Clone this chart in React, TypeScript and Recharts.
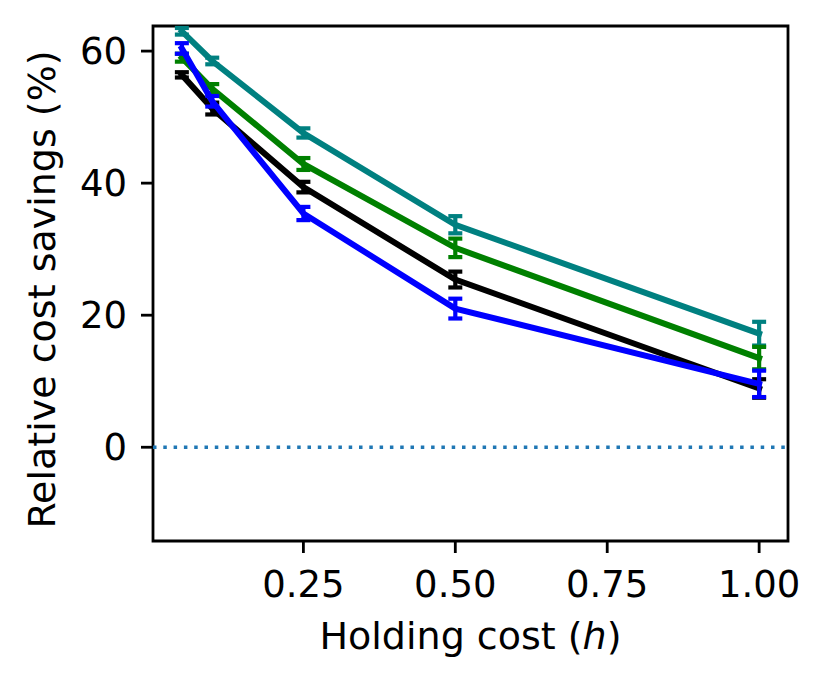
import {
  ErrorBar,
  Line,
  LineChart,
  ReferenceArea,
  ReferenceLine,
  XAxis,
  YAxis,
} from "recharts";

// holding cost values on the x axis
const holdingCosts = [0.05, 0.1, 0.25, 0.5, 1.0];

const tealSavings = [63.0, 58.5, 47.6, 33.7, 17.2];
const tealErr = [0.5, 0.5, 0.7, 1.3, 1.8];
const greenSavings = [59.0, 54.3, 42.9, 30.2, 13.5];
const greenErr = [0.6, 0.7, 0.9, 1.4, 1.7];
const blackSavings = [56.4, 51.3, 39.4, 25.4, 8.9];
const blackErr = [0.4, 0.9, 0.8, 1.2, 1.4];
const blueSavings = [60.4, 52.4, 35.4, 21.0, 9.6];
const blueErr = [0.8, 0.8, 1.0, 1.5, 2.0];

const xTicks = [0.25, 0.5, 0.75, 1.0];
const yTicks = [0, 20, 40, 60];

const xDomain: [number, number] = [0.0025, 1.0475];
const yDomain: [number, number] = [-14.2, 63.8];

const data = holdingCosts.map((h, i) => ({
  h,
  teal: tealSavings[i],
  tealErr: tealErr[i],
  green: greenSavings[i],
  greenErr: greenErr[i],
  black: blackSavings[i],
  blackErr: blackErr[i],
  blue: blueSavings[i],
  blueErr: blueErr[i],
}));

const series = [
  { key: "teal", color: "#008080" },
  { key: "green", color: "#008000" },
  { key: "black", color: "#000000" },
  { key: "blue", color: "#0000ff" },
];

const font = "'DejaVu Sans', sans-serif";
const tickStyle = { fontSize: 37, fill: "#000000", fontFamily: font };
const tickLine = { stroke: "#000000", strokeWidth: 2.8 };

export default function App() {
  return (
    <div style={{ position: "absolute", left: 0, top: 0, background: "#ffffff" }}>
      <LineChart
        width={829}
        height={690}
        data={data}
        margin={{ top: 26, right: 41, bottom: 0, left: 0 }}
      >
        <XAxis
          dataKey="h"
          type="number"
          domain={xDomain}
          ticks={xTicks}
          allowDataOverflow
          height={149}
          axisLine={false}
          tickLine={tickLine}
          tickSize={12}
          tickMargin={18}
          tick={tickStyle}
          tickFormatter={(v: number) => v.toFixed(2)}
          label={{
            content: ({ viewBox }: any) => (
              <text
                x={viewBox.x + viewBox.width / 2}
                y={viewBox.y + 108}
                textAnchor="middle"
                fontSize={38}
                fontFamily={font}
                fill="#000000"
              >
                Holding cost (<tspan fontStyle="italic">h</tspan>)
              </text>
            ),
          }}
        />
        <YAxis
          type="number"
          domain={yDomain}
          ticks={yTicks}
          allowDataOverflow
          width={153}
          axisLine={false}
          tickLine={tickLine}
          tickSize={12}
          tickMargin={14}
          tick={tickStyle}
          label={{
            content: ({ viewBox }: any) => {
              const cx = viewBox.x + 55;
              const cy = viewBox.y + viewBox.height / 2 + 6;
              return (
                <text
                  x={cx}
                  y={cy}
                  transform={`rotate(-90 ${cx} ${cy})`}
                  textAnchor="middle"
                  fontSize={38}
                  fontFamily={font}
                  fill="#000000"
                >
                  Relative cost savings (%)
                </text>
              );
            },
          }}
        />
        <ReferenceLine
          y={0}
          stroke="#1f77b4"
          strokeWidth={3.5}
          strokeDasharray="3.5 6.8"
        />
        {series.map((s) => (
          <Line
            key={s.key}
            dataKey={s.key}
            stroke={s.color}
            strokeWidth={6}
            strokeLinecap="square"
            dot={false}
            activeDot={false}
            isAnimationActive={false}
          >
            <ErrorBar
              dataKey={`${s.key}Err`}
              direction="y"
              width={7}
              stroke={s.color}
              strokeWidth={4.2}
              isAnimationActive={false}
            />
          </Line>
        ))}
        <ReferenceArea
          x1={xDomain[0]}
          x2={xDomain[1]}
          y1={yDomain[0]}
          y2={yDomain[1]}
          fill="none"
          stroke="#000000"
          strokeWidth={2.8}
          ifOverflow="visible"
        />
      </LineChart>
    </div>
  );
}
